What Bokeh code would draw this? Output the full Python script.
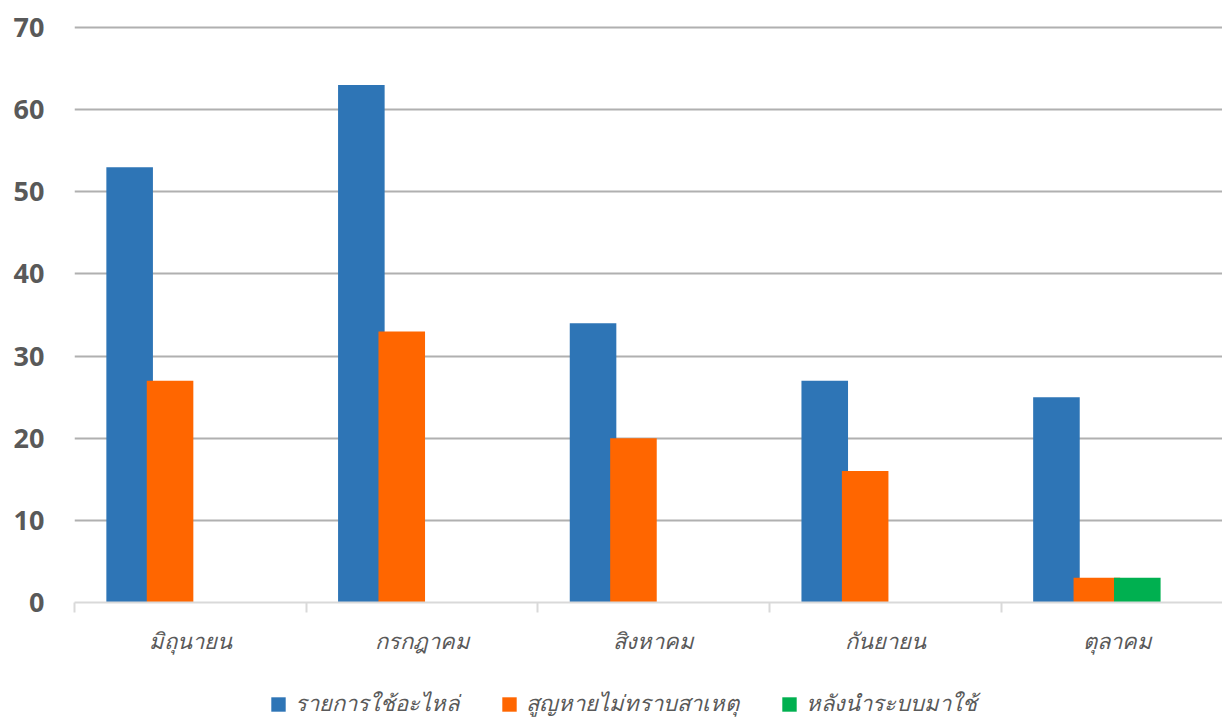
import numpy as np
from bokeh.plotting import figure
from bokeh.layouts import column
from bokeh.models import (Range1d, FixedTicker, Legend, LegendItem, ColumnDataSource)
from bokeh.embed import file_html
from bokeh.resources import INLINE

months = ["มิถุนายน", "กรกฎาคม", "สิงหาคม", "กันยายน", "ตุลาคม"]
series_names = ["รายการใช้อะไหล่", "สูญหายไม่ทราบสาเหตุ", "หลังนำระบบมาใช้"]
parts_used = [53, 63, 34, 27, 25]
lost_unknown = [27, 33, 20, 16, 3]
after_system = [0, 0, 0, 0, 3]
y_ticks = [0, 10, 20, 30, 40, 50, 60, 70]

colors = ["#2E75B6", "#FF6600", "#00B050"]
offsets = [-0.262, -0.0876, 0.087]
bar_w = 0.201

W, H = 1222, 717
left, top = 74, 25
frame_h = 577
bottom_h = 70
legend_h = H - top - frame_h - bottom_h
y_end = 70.25
cat_px = 231.7

p = figure(frame_width=W - left, frame_height=frame_h,
           output_backend="svg", toolbar_location=None,
           x_range=Range1d(0, (W - left) / cat_px), y_range=Range1d(0, y_end),
           min_border_left=left, min_border_right=0, min_border_top=top,
           min_border_bottom=bottom_h)
p.outline_line_color = None
p.background_fill_color = "white"
p.border_fill_color = "white"

centers = np.arange(len(months)) + 0.5
for vals, col, off in zip([parts_used, lost_unknown, after_system], colors, offsets):
    src = ColumnDataSource(dict(x=centers + off, top=vals))
    p.vbar(x="x", top="top", width=bar_w, bottom=0, source=src,
           fill_color=col, line_color=None)

# y axis
p.yaxis.ticker = FixedTicker(ticks=y_ticks)
p.yaxis.axis_line_color = None
p.yaxis.major_tick_line_color = None
p.yaxis.minor_tick_line_color = None
p.yaxis.major_tick_out = 0
p.yaxis.major_tick_in = 0
p.yaxis.major_label_standoff = 30
p.yaxis.major_label_text_font = "Open Sans"
p.yaxis.major_label_text_font_style = "bold"
p.yaxis.major_label_text_font_size = "27px"
p.yaxis.major_label_text_color = "#595959"

# x axis
p.xaxis.ticker = FixedTicker(ticks=list(centers), minor_ticks=list(range(len(months))))
p.xaxis.major_label_overrides = {float(c): m for c, m in zip(centers, months)}
p.xaxis.axis_line_color = "#D9D9D9"
p.xaxis.axis_line_width = 2
p.xaxis.major_tick_line_color = None
p.xaxis.major_tick_out = 10
p.xaxis.major_tick_in = 0
p.xaxis.minor_tick_line_color = "#D9D9D9"
p.xaxis.minor_tick_line_width = 2
p.xaxis.minor_tick_out = 10
p.xaxis.minor_tick_in = 0
p.xaxis.major_label_standoff = 12
p.xaxis.major_label_text_font = "Open Sans"
p.xaxis.major_label_text_font_style = "italic"
p.xaxis.major_label_text_font_size = "22px"
p.xaxis.major_label_text_color = "#595959"

p.xgrid.grid_line_color = None
p.ygrid.ticker = FixedTicker(ticks=y_ticks)
p.ygrid.grid_line_color = "#B0B0B0"
p.ygrid.grid_line_width = 2

# legend strip
p2 = figure(frame_width=W, frame_height=legend_h, output_backend="svg", toolbar_location=None,
            x_range=Range1d(0, 1), y_range=Range1d(0, 1),
            min_border=0, min_border_left=0, min_border_right=0,
            min_border_top=0, min_border_bottom=0)
p2.outline_line_color = None
p2.axis.visible = False
p2.grid.visible = False
p2.background_fill_color = "white"
p2.border_fill_color = "white"
leg_renderers = [p2.vbar(x=[0.5], top=[0], bottom=0, width=0.0, fill_color=c, line_color=None)
                 for c in colors]
legend = Legend(items=[LegendItem(label=n, renderers=[r]) for n, r in zip(series_names, leg_renderers)],
                orientation="horizontal", location=(269, -4),
                glyph_width=18, glyph_height=18, label_standoff=8, spacing=41,
                label_text_font="Open Sans", label_text_font_style="italic",
                label_text_font_size="22px", label_text_color="#595959",
                border_line_color=None, background_fill_alpha=0, margin=0, padding=0)
p2.add_layout(legend, "center")

layout = column(p, p2, spacing=0)
open("out.html", "w").write(file_html(layout, INLINE))
